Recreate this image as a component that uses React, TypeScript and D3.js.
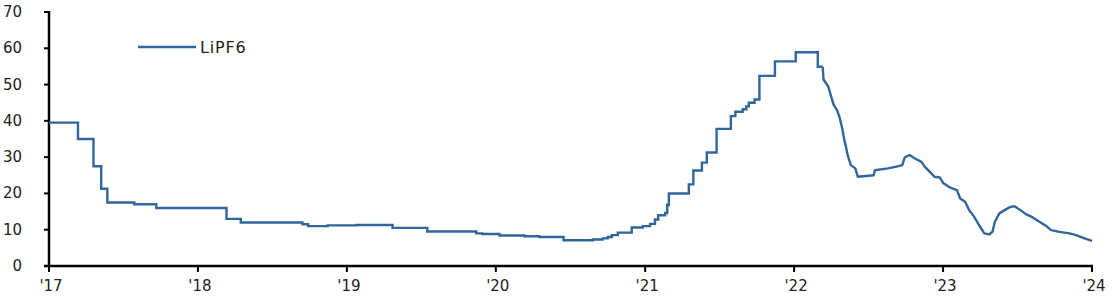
import React from "react";
import * as d3 from "d3";

// Stepped (price-quote) period, 2017 – early 2022
const stepDates = [
  "2017-01-01", "2017-03-13", "2017-04-20", "2017-05-09", "2017-05-24", "2017-07-29",
  "2017-09-21", "2018-03-12", "2018-04-16", "2018-09-14", "2018-09-28", "2018-11-15",
  "2019-01-24", "2019-04-23", "2019-07-17", "2019-11-14", "2019-11-29", "2020-01-10",
  "2020-03-11", "2020-04-17", "2020-06-15", "2020-08-26", "2020-09-19", "2020-10-01",
  "2020-10-11", "2020-10-26", "2020-11-29", "2020-12-26", "2021-01-13", "2021-01-25",
  "2021-02-02", "2021-02-19", "2021-02-24", "2021-02-28", "2021-04-18", "2021-04-29",
  "2021-05-20", "2021-06-01", "2021-06-25", "2021-07-30", "2021-08-10", "2021-08-28",
  "2021-09-06", "2021-09-12", "2021-09-26", "2021-10-08", "2021-11-15", "2022-01-05",
  "2022-02-28", "2022-03-12",
];
const stepValues = [
  39.5, 35.0, 27.5, 21.3, 17.5, 17.0,
  16.0, 13.0, 12.0, 11.5, 11.0, 11.2,
  11.3, 10.5, 9.5, 9.0, 8.8, 8.4,
  8.2, 8.0, 7.1, 7.3, 7.6, 8.0,
  8.5, 9.2, 10.6, 11.0, 11.6, 12.8,
  14.0, 14.6, 16.8, 20.0, 22.5, 26.3,
  28.5, 31.3, 37.8, 41.3, 42.5, 43.2,
  44.0, 45.0, 45.9, 52.4, 56.4, 58.9,
  54.9, 54.9,
];

// Weekly-ish period, 2022-03 – 2024-01
const weeklyDates = [
  "2022-03-12", "2022-03-14", "2022-03-26", "2022-04-02", "2022-04-08", "2022-04-16",
  "2022-04-22", "2022-04-29", "2022-05-04", "2022-05-08", "2022-05-12", "2022-05-20",
  "2022-05-31", "2022-06-06", "2022-06-26", "2022-07-15", "2022-07-18", "2022-08-19",
  "2022-09-09", "2022-09-23", "2022-09-29", "2022-10-11", "2022-10-23", "2022-11-09",
  "2022-11-17", "2022-11-29", "2022-12-11", "2022-12-24", "2023-01-01", "2023-01-17",
  "2023-02-04", "2023-02-12", "2023-02-24", "2023-03-06", "2023-03-18", "2023-03-30",
  "2023-04-12", "2023-04-24", "2023-05-02", "2023-05-08", "2023-05-19", "2023-06-01",
  "2023-06-13", "2023-06-25", "2023-07-07", "2023-07-23", "2023-08-09", "2023-08-25",
  "2023-09-11", "2023-09-23", "2023-10-13", "2023-11-07", "2023-11-23", "2023-12-14",
  "2024-01-01",
];
const weeklyValues = [
  54.9, 51.4, 49.4, 46.6, 44.4, 43.0,
  41.1, 37.9, 34.7, 32.9, 30.6, 27.8,
  26.9, 24.6, 24.8, 25.0, 26.4, 26.9,
  27.4, 27.8, 29.9, 30.6, 29.7, 28.7,
  27.4, 26.0, 24.6, 24.4, 22.9, 21.7,
  20.9, 18.6, 17.7, 15.4, 13.6, 11.3,
  9.0, 8.7, 9.4, 12.2, 14.5, 15.4,
  16.2, 16.5, 15.6, 14.3, 13.4, 12.2,
  11.0, 9.9, 9.4, 9.0, 8.5, 7.6,
  6.9,
];

const yTicks = [0, 10, 20, 30, 40, 50, 60, 70];
const xTickYears = [2017, 2018, 2019, 2020, 2021, 2022, 2023, 2024];
const xTickLabels = ["'17", "'18", "'19", "'20", "'21", "'22", "'23", "'24"];
const seriesName = "LiPF6";

const W = 1117;
const H = 300;
const LEFT = 49;
const RIGHT = 1092;
const TOP = 12;
const BOTTOM = 266;
const COLOR = "#30669b";
const FONT = "'DejaVu Sans', 'Noto Sans', sans-serif";

export default function App() {
  const parse = d3.timeParse("%Y-%m-%d");
  const x = d3
    .scaleTime()
    .domain([new Date(2017, 0, 1), new Date(2024, 0, 1)])
    .range([LEFT, RIGHT]);
  const y = d3.scaleLinear().domain([0, 70]).range([BOTTOM, TOP]);

  const stepData = stepDates.map((d, i) => ({ d: parse(d) as Date, v: stepValues[i] }));
  const weeklyData = weeklyDates.map((d, i) => ({ d: parse(d) as Date, v: weeklyValues[i] }));

  const stepLine = d3
    .line<{ d: Date; v: number }>()
    .x((p) => x(p.d))
    .y((p) => y(p.v))
    .curve(d3.curveStepAfter);
  const linLine = d3
    .line<{ d: Date; v: number }>()
    .x((p) => x(p.d))
    .y((p) => y(p.v))
    .curve(d3.curveLinear);

  return (
    <svg
      width={W}
      height={H}
      style={{ position: "absolute", left: 0, top: 0, background: "#fff" }}
      fontFamily={FONT}
    >
      {/* y axis ticks and labels */}
      {yTicks.map((t) => (
        <g key={t}>
          <line x1={LEFT - 5} x2={LEFT} y1={y(t)} y2={y(t)} stroke="#000" strokeWidth={2} />
          <text
            x={22}
            y={y(t)}
            textAnchor="end"
            dominantBaseline="central"
            fontSize={15}
            fill="#222"
          >
            {t}
          </text>
        </g>
      ))}
      <line x1={LEFT} x2={LEFT} y1={TOP - 1} y2={BOTTOM} stroke="#000" strokeWidth={2.5} />

      {/* x axis */}
      {xTickYears.map((yr, i) => {
        const px = x(new Date(yr, 0, 1));
        return (
          <g key={yr}>
            <line x1={px} x2={px} y1={BOTTOM} y2={BOTTOM + 6} stroke="#000" strokeWidth={2} />
            <text x={px + 2} y={291} textAnchor="middle" fontSize={15} fill="#222">
              {xTickLabels[i]}
            </text>
          </g>
        );
      })}
      <line x1={LEFT - 5} x2={RIGHT + 1} y1={BOTTOM} y2={BOTTOM} stroke="#000" strokeWidth={2.5} />

      {/* series */}
      <path d={stepLine(stepData) || ""} fill="none" stroke={COLOR} strokeWidth={2.4} />
      <path
        d={linLine(weeklyData) || ""}
        fill="none"
        stroke={COLOR}
        strokeWidth={2.4}
        strokeLinejoin="round"
      />

      {/* legend */}
      <line x1={138} x2={196} y1={47} y2={47} stroke={COLOR} strokeWidth={2.6} />
      <text
        x={200}
        y={47}
        dominantBaseline="central"
        fontSize={16}
        letterSpacing={0.8}
        fill="#222"
      >
        {seriesName}
      </text>
    </svg>
  );
}
